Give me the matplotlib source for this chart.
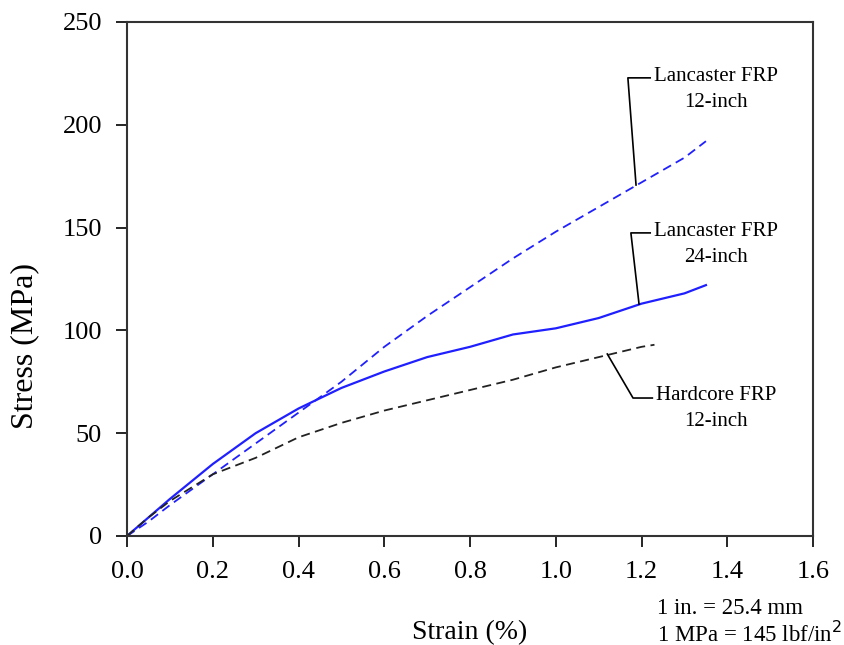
# Stress-strain curves for FRP specimens
import matplotlib.pyplot as plt
import numpy as np

plt.rcParams['font.family'] = ['Liberation Serif', 'DejaVu Serif']

# Curves (strain in %, stress in MPa)
lanc12_strain = [0, 0.05, 0.1, 0.2, 0.3, 0.4, 0.5, 0.6, 0.7, 0.8, 0.9, 1.0, 1.1, 1.2, 1.3, 1.35]
lanc12_stress = [0, 7, 15, 30, 45, 60, 75, 92, 107, 121, 135, 148, 160, 172, 184, 192]

lanc24_strain = [0, 0.05, 0.1, 0.2, 0.3, 0.4, 0.5, 0.6, 0.7, 0.8, 0.9, 1.0, 1.1, 1.2, 1.3, 1.35]
lanc24_stress = [0, 9, 18, 35, 50, 62, 72, 80, 87, 92, 98, 101, 106, 113, 118, 122]

hard12_strain = [0, 0.05, 0.1, 0.2, 0.3, 0.4, 0.5, 0.6, 0.7, 0.8, 0.9, 1.0, 1.1, 1.2, 1.23]
hard12_stress = [0, 9, 17, 30, 38, 48, 55, 61, 66, 71, 76, 82, 87, 92, 93]

xticks = [0.0, 0.2, 0.4, 0.6, 0.8, 1.0, 1.2, 1.4, 1.6]
yticks = [0, 50, 100, 150, 200, 250]

fig = plt.figure(figsize=(8.45, 6.45), dpi=100)
ax = fig.add_axes([0.1503, 0.169, 0.812, 0.797])

ax.plot(lanc12_strain, lanc12_stress, color='#2020ff', linestyle=(0, (5, 3)), linewidth=1.3)
ax.plot(lanc24_strain, lanc24_stress, color='#2020ff', linestyle='-', linewidth=1.6)
ax.plot(hard12_strain, hard12_stress, color='#222222', linestyle=(0, (5, 3)), linewidth=1.3)

# leader lines and labels
ax.plot([1.187, 1.168, 1.22], [170.7, 222.8, 222.8], color='black', linewidth=1.2)
ax.text(1.374, 217, 'Lancaster FRP\n12-inch', ha='center', va='center',
        fontsize=15, linespacing=1.5)
ax.plot([1.194, 1.175, 1.22], [112.8, 147.4, 147.4], color='black', linewidth=1.2)
ax.text(1.374, 142, 'Lancaster FRP\n24-inch', ha='center', va='center',
        fontsize=15, linespacing=1.5)
ax.plot([1.12, 1.18, 1.225], [88.5, 67.1, 67.1], color='black', linewidth=1.2)
ax.text(1.374, 62, 'Hardcore FRP\n12-inch', ha='center', va='center',
        fontsize=15, linespacing=1.5)

ax.set_xlim(0, 1.6)
ax.set_ylim(0, 250)
ax.set_xticks(xticks)
ax.set_xticklabels([f'{v:.1f}' for v in xticks])
ax.set_yticks(yticks)
ax.tick_params(direction='out', length=8, width=1.2, labelsize=19, pad=10)
for s in ax.spines.values():
    s.set_linewidth(1.5)
    s.set_color('#333333')

ax.set_xlabel('Strain (%)', fontsize=20)
ax.set_ylabel('Stress (MPa)', fontsize=23)
ax.xaxis.set_label_coords(0.5, -0.163)
ax.yaxis.set_label_coords(-0.128, 0.37)

fig.text(0.7775, 0.056, '1 in. = 25.4 mm', ha='left', va='center', fontsize=16.5)
fig.text(0.7775, 0.017, '1 MPa = 145 lbf/in$^2$', ha='left', va='center', fontsize=16.5)

plt.savefig('out.png', dpi=100)
